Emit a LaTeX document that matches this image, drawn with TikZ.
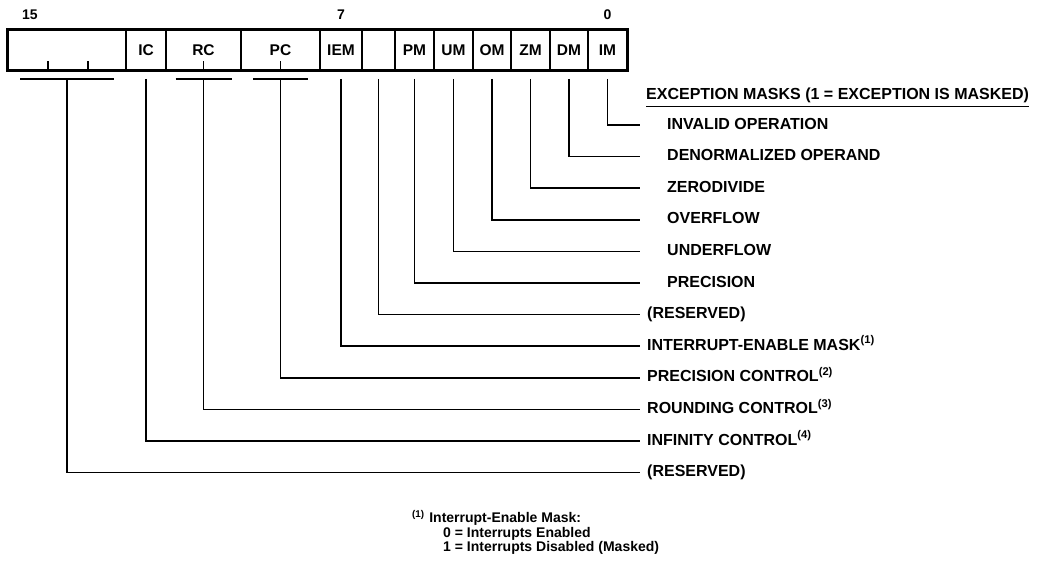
\documentclass[tikz,border=0pt]{standalone}
\usepackage{fontspec}
\setmainfont{Liberation Sans}
\usetikzlibrary{positioning,calc}

\tikzset{
  cell/.style={draw,line width=1.5pt,minimum height=40pt,inner sep=0pt,
    font=\fontsize{15.5}{17}\selectfont\bfseries},
  bitno/.style={font=\fontsize{14}{16}\selectfont\bfseries},
  lbl/.style={anchor=west,inner xsep=7pt,inner ysep=1pt,text height=11.5pt,text depth=3.4pt,
    font=\fontsize{16}{18}\selectfont\bfseries},
  exlbl/.style={lbl,inner xsep=27pt},
  lead/.style={line width=1.5pt},
  tick/.style={line width=1.5pt}
}

\begin{document}
\begin{tikzpicture}[x=1pt,y=-1pt]
  \useasboundingbox (0,0) rectangle (1044,565);
  % register cells
  \node[cell,minimum width=118pt] (res3) at (67,50) {};
  \node[cell,minimum width=40pt] (ic) at (146,50) {IC};
  \node[cell,minimum width=75pt] (rc) at (203.5,50) {RC};
  \node[cell,minimum width=79pt] (pc) at (280.5,50) {PC};
  \node[cell,minimum width=42pt] (iem) at (341,50) {IEM};
  \node[cell,minimum width=33pt] (res6) at (378.5,50) {};
  \node[cell,minimum width=39pt] (pm) at (414.5,50) {PM};
  \node[cell,minimum width=39pt] (um) at (453.5,50) {UM};
  \node[cell,minimum width=38pt] (om) at (492,50) {OM};
  \node[cell,minimum width=39pt] (zm) at (530.5,50) {ZM};
  \node[cell,minimum width=38pt] (dm) at (569,50) {DM};
  \node[cell,minimum width=39pt] (im) at (607.5,50) {IM};
  \draw[line width=3.2pt] (res3.north west) rectangle (im.south east);
  % bit ticks inside the wide fields
  \foreach \x in {48,88,203.5,280.5}
    \draw[tick] (\x,70) -- (\x,61);
  % bit numbers
  \node[bitno] (b15) at (30,15) {15};
  \node[bitno] (b7) at (341,15) {7};
  \node[bitno] (b0) at (607.5,15) {0};

  % labels
  \node[lbl,inner xsep=0pt,inner ysep=3.5pt] (hdr) at (646,95) {EXCEPTION MASKS (1 = EXCEPTION IS MASKED)};
  \draw[line width=1pt] (hdr.south west) -- (hdr.south east);
  \node[exlbl] (lim) at (640,125) {INVALID OPERATION};
  \node[exlbl] (ldm) at (640,156.6) {DENORMALIZED OPERAND};
  \node[exlbl] (lzm) at (640,188.2) {ZERODIVIDE};
  \node[exlbl] (lom) at (640,219.8) {OVERFLOW};
  \node[exlbl] (lum) at (640,251.4) {UNDERFLOW};
  \node[exlbl] (lpm) at (640,283) {PRECISION};
  \node[lbl] (lres6) at (640,314.6) {(RESERVED)};
  \node[lbl] (liem) at (640,346.2) {INTERRUPT-ENABLE MASK\textsuperscript{(1)}};
  \node[lbl] (lpc) at (640,377.8) {PRECISION CONTROL\textsuperscript{(2)}};
  \node[lbl] (lrc) at (640,409.4) {ROUNDING CONTROL\textsuperscript{(3)}};
  \node[lbl] (lic) at (640,441) {INFINITY CONTROL\textsuperscript{(4)}};
  \node[lbl] (lres3) at (640,472.6) {(RESERVED)};

  % leads
  \foreach \c in {im,dm,zm,om,um,pm,res6,iem,ic}
    \draw[lead] ([yshift=-8pt]\c.south) |- (l\c.west);
  \foreach \c/\w in {res3/47,rc/28,pc/27.5}{
    \draw[lead] ([xshift=-\w pt,yshift=-8pt]\c.south) -- ([xshift=\w pt,yshift=-8pt]\c.south);
    \draw[lead] ([yshift=-8pt]\c.south) |- (l\c.west);
  }

  % footnote
  \node[anchor=north west,align=left,inner sep=0pt,
    font=\fontsize{14}{14.5}\selectfont\bfseries] (note) at (412,510)
    {\textsuperscript{(1)}\,\,Interrupt-Enable Mask:\\
     \hspace*{31pt}0 = Interrupts Enabled\\
     \hspace*{31pt}1 = Interrupts Disabled (Masked)};
\end{tikzpicture}
\end{document}
